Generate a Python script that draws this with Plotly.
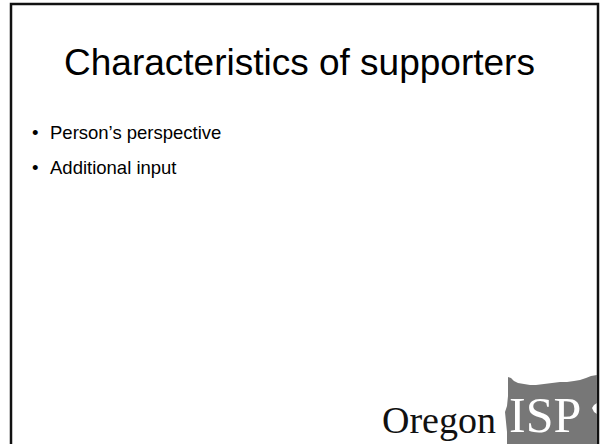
import plotly.graph_objects as go

title_text = "Characteristics of supporters"
bullets = ["Person\u2019s perspective", "Additional input"]
logo_word = "Oregon"
logo_badge = "ISP"

W, H = 600, 444
fig = go.Figure()

# slide frame
fig.add_shape(type="rect", x0=11, y0=4, x1=598, y1=460, xref="x", yref="y",
              line=dict(color="#111111", width=2.5), fillcolor="rgba(0,0,0,0)")

# title
fig.add_annotation(x=299, y=62, xref="x", yref="y", text=title_text, showarrow=False,
                   font=dict(family="Liberation Sans, Arial", size=37, color="#000000"),
                   xanchor="center", yanchor="middle")

# bullets
for i, b in enumerate(bullets):
    yy = 132 + i * 35
    fig.add_annotation(x=35, y=yy, xref="x", yref="y", text="\u2022", showarrow=False,
                       font=dict(family="Liberation Sans, Arial", size=18.5, color="#000000"),
                       xanchor="center", yanchor="middle")
    fig.add_annotation(x=48, y=yy, xref="x", yref="y", text=b, showarrow=False,
                       font=dict(family="Liberation Sans, Arial", size=18.5, color="#000000"),
                       xanchor="left", yanchor="middle")

# Oregon state silhouette (logo)
path = ("M 508 377 L 511 378 L 514 381 L 518 383 L 524 384 L 530 385 L 536 385 "
        "L 544 384 L 552 383 L 560 382 L 567 382 L 574 381 L 580 380 L 586 378 "
        "L 591 376 L 597 375 L 597 403 L 594 405 L 592 408 L 594 412 L 597 414 "
        "L 597 444 L 507 444 L 507 432 L 506 422 L 505 412 L 507 406 L 508 396 Z")
fig.add_shape(type="path", path=path, xref="x", yref="y",
              fillcolor="#777777", line=dict(width=0))

fig.add_annotation(x=498, y=420, xref="x", yref="y", text=logo_word, showarrow=False,
                   font=dict(family="Liberation Serif, Times New Roman", size=38, color="#111111"),
                   xanchor="right", yanchor="middle")
fig.add_annotation(x=545, y=415, xref="x", yref="y", text=logo_badge, showarrow=False,
                   font=dict(family="Liberation Serif, Times New Roman", size=50, color="#ffffff"),
                   xanchor="center", yanchor="middle")

fig.update_xaxes(range=[0, W], visible=False, fixedrange=True)
fig.update_yaxes(range=[H, 0], visible=False, fixedrange=True)
fig.update_layout(width=W, height=H, margin=dict(l=0, r=0, t=0, b=0),
                  plot_bgcolor="white", paper_bgcolor="white", showlegend=False)

fig.write_html("out.html", config={"displayModeBar": False},
               post_script="document.body.style.margin='0';document.body.style.overflow='hidden';")
